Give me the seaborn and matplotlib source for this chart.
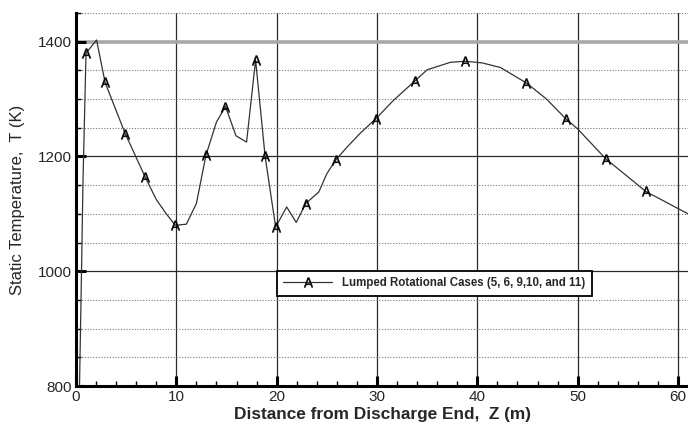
import numpy as np
import pandas as pd
import matplotlib
matplotlib.use("Agg")
import matplotlib.pyplot as plt
from matplotlib.ticker import MultipleLocator
import seaborn as sns

# Axial temperature profile along the kiln
distance_m = [0.35, 0.55, 0.7, 1.0, 2.05, 2.9, 4.9, 6.9, 8.0, 9.0, 9.9, 11.0, 12.0,
              12.95, 14.0, 14.9, 15.95, 17.0, 17.9, 18.85, 19.9, 21.0, 21.95, 22.9,
              24.2, 25.0, 25.9, 27.0, 28.3, 29.9, 31.6, 33.8, 35.0, 37.3, 38.8, 40.5,
              42.3, 44.9, 46.9, 48.8, 50.0, 52.8, 56.8, 61.0]
temperature_k = [800, 1000, 1160, 1380, 1403, 1329, 1240, 1164, 1125, 1100, 1080, 1082,
                 1118, 1202, 1260, 1287, 1236, 1225, 1368, 1200, 1077, 1112, 1085, 1118,
                 1138, 1170, 1194, 1216, 1240, 1266, 1297, 1332, 1351, 1364, 1366, 1363,
                 1355, 1328, 1300, 1266, 1248, 1196, 1139, 1100]
# Stations that carry a symbol on the curve
symbol_stations = [1.0, 2.9, 4.9, 6.9, 9.9, 12.95, 14.9, 17.9, 18.85, 19.9, 22.9, 25.9,
                   29.9, 33.8, 38.8, 44.9, 48.8, 52.8, 56.8]
series_label = "Lumped Rotational Cases (5, 6, 9,10, and 11)"
x_ticks = [0, 10, 20, 30, 40, 50, 60]
y_ticks = [800, 1000, 1200, 1400]

df = pd.DataFrame({"Z": distance_m, "T": temperature_k})
mark_idx = list(np.nonzero(np.isin(df["Z"].values, symbol_stations))[0])

sns.set_theme(style="white")
plt.rcParams["font.family"] = ["Liberation Sans", "DejaVu Sans"]

fig = plt.figure(figsize=(6.88, 4.29), dpi=100)
ax = fig.add_axes([76 / 688, 43 / 429, 612 / 688, 373 / 429])

sns.lineplot(data=df, x="Z", y="T", ax=ax, estimator=None, sort=False,
             color="#333333", linewidth=0.9, marker=r"$\mathsf{A}$",
             markersize=7, markeredgewidth=0.3, markerfacecolor="black",
             markeredgecolor="black", markevery=mark_idx, label=series_label)

ax.set_xlim(0, 61)
ax.set_ylim(800, 1450)
ax.set_xticks(x_ticks)
ax.set_yticks(y_ticks)
ax.xaxis.set_minor_locator(MultipleLocator(2))
ax.yaxis.set_minor_locator(MultipleLocator(50))

ax.grid(which="major", color="#2a2a2a", linewidth=0.9, linestyle="-")
ax.grid(which="minor", axis="y", color="#777777", linewidth=0.8, linestyle=(0, (1, 1.5)))
ax.grid(which="minor", axis="x", visible=False)
ax.set_axisbelow(True)
# top major gridline in a heavier grey
gl = ax.yaxis.get_gridlines()[-1]
gl.set_color("#a8a8a8")
gl.set_linewidth(2.6)

for side in ("top", "right"):
    ax.spines[side].set_visible(False)
for side in ("left", "bottom"):
    ax.spines[side].set_color("black")
    ax.spines[side].set_linewidth(2.2)

ax.tick_params(which="major", direction="in", length=7, width=2.2, color="black",
               labelsize=11, pad=3, left=True, bottom=True)
ax.tick_params(which="minor", direction="in", length=3.5, width=1.0, color="black",
               left=True, bottom=True)

ax.set_xlabel("Distance from Discharge End,  Z (m)", fontsize=12.4, fontweight="bold",
              labelpad=2)
ax.set_ylabel("Static Temperature,  T (K)", fontsize=12, labelpad=9)

leg = ax.legend(loc="upper left", bbox_to_anchor=(201 / 612, 115 / 373),
                borderaxespad=0, fancybox=False, framealpha=1, edgecolor="black",
                fontsize=8.3, handlelength=4.2, numpoints=1, borderpad=0.55,
                handletextpad=0.9)
leg.get_frame().set_linewidth(1.3)
for t in leg.get_texts():
    t.set_fontweight("bold")

fig.savefig("out.png", dpi=100)
